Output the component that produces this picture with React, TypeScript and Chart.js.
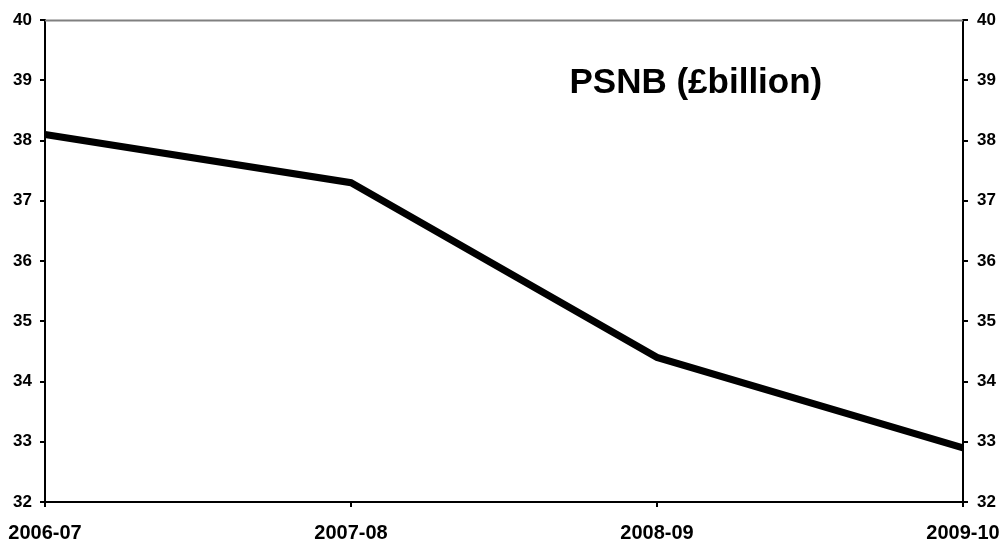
import React, { useEffect, useRef } from "react";
import { Chart, registerables } from "chart.js";

Chart.register(...registerables);

const categories = ["2006-07", "2007-08", "2008-09", "2009-10"];
const psnb = [38.1, 37.3, 34.4, 32.9];
const yMin = 32;
const yMax = 40;
const titleText = "PSNB (£billion)";

const FONT = "'Liberation Sans', Arial, sans-serif";

const overlayPlugin = {
  id: "overlay",
  beforeDatasetsDraw(chart: any) {
    const { ctx, chartArea } = chart;
    ctx.save();
    ctx.strokeStyle = "#808080";
    ctx.lineWidth = 2;
    ctx.beginPath();
    ctx.moveTo(chartArea.left, chartArea.top + 0.5);
    ctx.lineTo(chartArea.right, chartArea.top + 0.5);
    ctx.stroke();
    ctx.restore();
  },
  afterDraw(chart: any) {
    const { ctx, chartArea } = chart;
    ctx.save();
    ctx.fillStyle = "#000";
    ctx.font = `bold 35px ${FONT}`;
    ctx.textAlign = "center";
    ctx.textBaseline = "alphabetic";
    const x = chartArea.left + (chartArea.right - chartArea.left) * 0.709;
    const y = chartArea.top + 73;
    ctx.fillText(titleText, x, y);
    ctx.restore();
  },
};

export default function App() {
  const ref = useRef<HTMLCanvasElement | null>(null);
  useEffect(() => {
    if (!ref.current) return;
    const axisCommon = (pos: "left" | "right", pad: number) => ({
      type: "linear" as const,
      position: pos,
      min: yMin,
      max: yMax,
      ticks: {
        stepSize: 1,
        color: "#000",
        padding: pad,
        font: { family: FONT, size: 17, weight: "bold" as const },
      },
      grid: {
        drawOnChartArea: false,
        drawTicks: true,
        tickLength: 5,
        color: "#000",
        lineWidth: 2,
      },
      border: { display: true, color: "#000", width: 2 },
      afterFit: (scale: any) => {
        scale.width = pos === "left" ? 45 : 44;
        scale.paddingTop = 0;
        scale.paddingBottom = 0;
      },
    });
    const chart = new Chart(ref.current, {
      type: "line",
      data: {
        labels: categories,
        datasets: [
          {
            data: psnb,
            borderColor: "#000",
            backgroundColor: "#000",
            borderWidth: 7,
            pointRadius: 0,
            tension: 0,
            clip: false as any,
            yAxisID: "y",
          },
        ],
      },
      options: {
        animation: false,
        responsive: false,
        maintainAspectRatio: false,
        layout: { padding: { top: 20, left: 0, right: 0, bottom: 0 } },
        plugins: { legend: { display: false }, tooltip: { enabled: false } },
        scales: {
          x: {
            type: "category",
            offset: false,
            ticks: {
              color: "#000",
              padding: 14,
              maxRotation: 0,
              autoSkip: false,
              font: { family: FONT, size: 20, weight: "bold" },
            },
            grid: {
              drawOnChartArea: false,
              drawTicks: true,
              tickLength: 5,
              color: "#000",
              lineWidth: 2,
            },
            border: { display: true, color: "#000", width: 2 },
            afterFit: (scale: any) => {
              scale.height = 42;
              scale.paddingLeft = 0;
              scale.paddingRight = 0;
            },
          },
          y: axisCommon("left", 8),
          y2: axisCommon("right", 9),
        },
      },
      plugins: [overlayPlugin],
    });
    return () => chart.destroy();
  }, []);
  return (
    <div style={{ position: "absolute", left: 0, top: 0, width: 1007, height: 544, background: "#fff" }}>
      <canvas ref={ref} width={1007} height={544} style={{ display: "block", width: 1007, height: 544 }} />
    </div>
  );
}
